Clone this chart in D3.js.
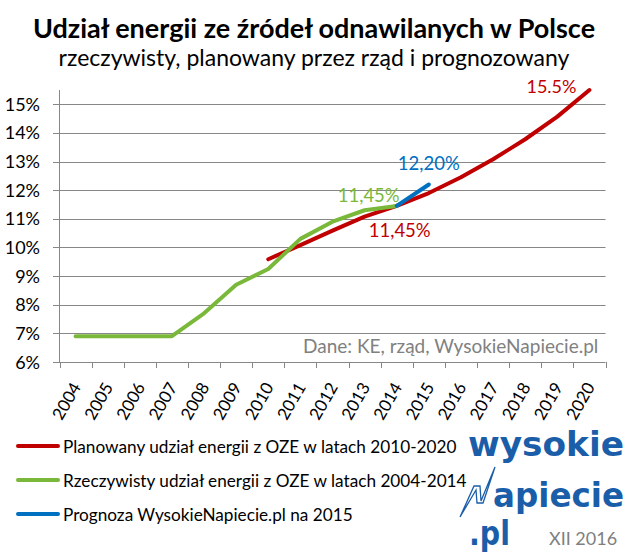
<!DOCTYPE html>
<html>
<head>
<meta charset="utf-8">
<script src="https://cdn.jsdelivr.net/npm/d3@7"></script>
<style>
  body { margin: 0; background: #fff; }
  text { font-family: Lato, "Open Sans", sans-serif; }
</style>
</head>
<body>
<div id="chart"></div>
<script>
var years = ["2004", "2005", "2006", "2007", "2008", "2009", "2010", "2011", "2012",
    "2013", "2014", "2015", "2016", "2017", "2018", "2019", "2020"];
var yTicks = [6, 7, 8, 9, 10, 11, 12, 13, 14, 15];

// Planowany udział (2010-2020)
var plannedYears = ["2010", "2011", "2012", "2013", "2014", "2015", "2016", "2017", "2018", "2019", "2020"];
var plannedValues = [9.59, 10.08, 10.59, 11.08, 11.45, 11.90, 12.45, 13.08, 13.78, 14.57, 15.50];

// Rzeczywisty udział (2004-2014)
var actualYears = ["2004", "2005", "2006", "2007", "2008", "2009", "2010", "2011", "2012", "2013", "2014"];
var actualValues = [6.9, 6.9, 6.9, 6.9, 7.7, 8.7, 9.25, 10.3, 10.9, 11.3, 11.45];

// Prognoza WysokieNapiecie.pl
var forecastYears = ["2014", "2015"];
var forecastValues = [11.45, 12.2];

var legendLabels = [
    "Planowany udział energii z OZE w latach 2010-2020",
    "Rzeczywisty udział energii z OZE w latach 2004-2014",
    "Prognoza WysokieNapiecie.pl na 2015"
];

var RED = "#c00000", GREEN = "#7ab83a", BLUE = "#0070c0", GRID = "#878787";

var svgWidth = 628, svgHeight = 553;

var svg = d3.select("#chart")
    .append("svg")
    .attr("width", svgWidth)
    .attr("height", svgHeight);

var xScale = d3.scaleBand()
    .domain(years)
    .range([59.5, 605.5])
    .padding(0);

var yScale = d3.scaleLinear()
    .domain([6, 15.5])
    .range([362, 90]);

var cx = function(yr) { return xScale(yr) + xScale.bandwidth() / 2; };

// Title
svg.append("text")
    .attr("x", 314).attr("y", 38)
    .attr("text-anchor", "middle")
    .style("font-size", "27px").style("font-weight", "bold")
    .text("Udział energii ze źródeł odnawilanych w Polsce");

svg.append("text")
    .attr("x", 314).attr("y", 66)
    .attr("text-anchor", "middle")
    .style("font-size", "23px")
    .text("rzeczywisty, planowany przez rząd i prognozowany");

// Gridlines
svg.append("g")
    .selectAll("line")
    .data(yTicks)
    .enter()
    .append("line")
    .attr("x1", 53).attr("x2", 605.5)
    .attr("y1", d => Math.round(yScale(d)) + 0.5)
    .attr("y2", d => Math.round(yScale(d)) + 0.5)
    .attr("stroke", GRID);

// Y axis line
svg.append("line")
    .attr("x1", 59.5).attr("x2", 59.5)
    .attr("y1", yScale(15.5)).attr("y2", yScale(6))
    .attr("stroke", GRID);

svg.append("g")
    .selectAll("text")
    .data(yTicks)
    .enter()
    .append("text")
    .attr("x", 40)
    .attr("y", d => yScale(d) + 6.5)
    .attr("text-anchor", "end")
    .style("font-size", "18px")
    .text(d => d + "%");

// X axis ticks (between categories)
var tickPos = years.map(y => xScale(y)).concat([xScale.range()[1]]);
svg.append("g")
    .selectAll("line")
    .data(tickPos)
    .enter()
    .append("line")
    .attr("x1", d => Math.round(d) + 0.5).attr("x2", d => Math.round(d) + 0.5)
    .attr("y1", 362).attr("y2", 368)
    .attr("stroke", GRID);

svg.append("g")
    .selectAll("text")
    .data(years)
    .enter()
    .append("text")
    .attr("transform", d => `translate(${cx(d) + 6}, 387) rotate(-60)`)
    .attr("text-anchor", "end")
    .style("font-size", "17px")
    .text(d => d);

// Series lines
var line = d3.line()
    .x(d => cx(d.year))
    .y(d => yScale(d.value));

function zip(ys, vs) { return ys.map((y, i) => ({ year: y, value: vs[i] })); }

var series = [
    { data: zip(plannedYears, plannedValues), color: RED },
    { data: zip(actualYears, actualValues), color: GREEN },
    { data: zip(forecastYears, forecastValues), color: BLUE }
];

svg.append("g")
    .selectAll("path")
    .data(series)
    .enter()
    .append("path")
    .attr("d", d => line(d.data))
    .attr("fill", "none")
    .attr("stroke", d => d.color)
    .attr("stroke-width", 4)
    .attr("stroke-linejoin", "round")
    .attr("stroke-linecap", "round");

// Value labels
var labels = [
    { text: "15.5%", year: "2020", value: 15.5, dx: -63, dy: 3, color: RED, size: 18 },
    { text: "12,20%", year: "2015", value: 12.2, dx: -31, dy: -14, color: BLUE, size: 18.5 },
    { text: "11,45%", year: "2014", value: 11.45, dx: -59, dy: -4, color: GREEN, size: 18.5 },
    { text: "11,45%", year: "2014", value: 11.45, dx: -28, dy: 31, color: RED, size: 18.5 }
];

svg.append("g")
    .selectAll("text")
    .data(labels)
    .enter()
    .append("text")
    .attr("x", d => cx(d.year) + d.dx)
    .attr("y", d => yScale(d.value) + d.dy)
    .attr("fill", d => d.color)
    .style("font-size", d => d.size + "px")
    .text(d => d.text);

svg.append("text")
    .attr("x", 303).attr("y", 353)
    .attr("fill", "#808080")
    .style("font-size", "19px")
    .text("Dane: KE, rząd, WysokieNapiecie.pl");

// Legend
var legend = svg.append("g")
    .selectAll("g")
    .data(series)
    .enter()
    .append("g")
    .attr("transform", (d, i) => `translate(0, ${446 + i * 34})`);

legend.append("line")
    .attr("x1", 18).attr("x2", 58)
    .attr("stroke", d => d.color)
    .attr("stroke-width", 4)
    .attr("stroke-linecap", "round");

legend.append("text")
    .attr("x", 63).attr("y", 7)
    .style("font-size", "17.2px")
    .text((d, i) => legendLabels[i]);

// Logo
var LOGO = "#1a5ea9";
svg.append("text")
    .attr("x", 468).attr("y", 456)
    .attr("fill", LOGO)
    .attr("textLength", 156).attr("lengthAdjust", "spacingAndGlyphs")
    .style("font-family", "'DejaVu Sans'").style("font-weight", "bold").style("font-size", "33px")
    .text("wysokie");

svg.append("text")
    .attr("x", 493).attr("y", 507)
    .attr("fill", LOGO)
    .attr("textLength", 131).attr("lengthAdjust", "spacingAndGlyphs")
    .style("font-family", "'DejaVu Sans'").style("font-weight", "bold").style("font-size", "33px")
    .text("apiecie");

svg.append("text")
    .attr("x", 469).attr("y", 545)
    .attr("fill", LOGO)
    .attr("textLength", 41).attr("lengthAdjust", "spacingAndGlyphs")
    .style("font-family", "'DejaVu Sans'").style("font-weight", "bold").style("font-size", "33px")
    .text(".pl");

svg.append("path")
    .attr("d", "M460,517 L474,486 L480,486 L481,501 L495,467 L483,503 L477,503 L476,490 Z")
    .attr("fill", "none")
    .attr("stroke", LOGO)
    .attr("stroke-width", 1.3)
    .attr("stroke-linejoin", "miter");

svg.append("text")
    .attr("x", 549).attr("y", 545)
    .attr("fill", "#808080")
    .style("font-size", "18px")
    .text("XII 2016");
</script>
</body>
</html>
